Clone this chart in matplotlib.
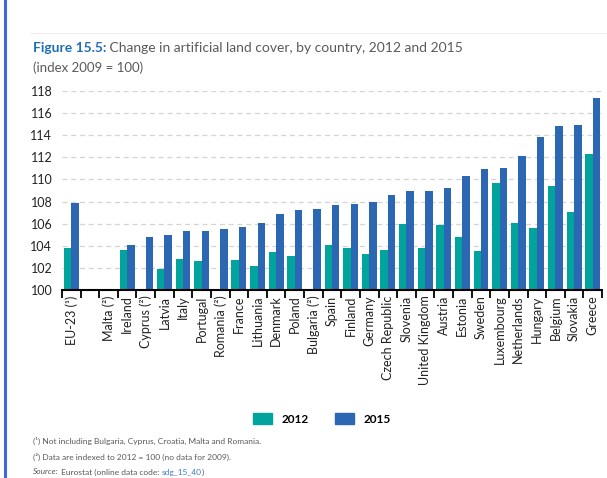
import numpy as np
import matplotlib
matplotlib.use("Agg")
import matplotlib.pyplot as plt
from matplotlib.lines import Line2D
from matplotlib.patches import Patch

plt.rcParams['font.family'] = ['Lato', 'DejaVu Sans']

# data (index 2009 = 100); None = no bar
countries = ["EU-23 (¹)", "", "Malta (²)", "Ireland", "Cyprus (²)", "Latvia", "Italy",
             "Portugal", "Romania (²)", "France", "Lithuania", "Denmark", "Poland",
             "Bulgaria (²)", "Spain", "Finland", "Germany", "Czech Republic", "Slovenia",
             "United Kingdom", "Austria", "Estonia", "Sweden", "Luxembourg",
             "Netherlands", "Hungary", "Belgium", "Slovakia", "Greece"]
v2012 = [103.8, None, 100.0, 103.6, 100.0, 101.9, 102.8, 102.6, 100.0, 102.7, 102.2,
         103.4, 103.1, 100.0, 104.1, 103.8, 103.3, 103.6, 106.0, 103.8, 105.9, 104.8,
         103.5, 109.7, 106.1, 105.6, 109.4, 107.1, 112.3]
v2015 = [107.9, None, 100.0, 104.1, 104.8, 105.0, 105.3, 105.3, 105.5, 105.7, 106.1,
         106.9, 107.2, 107.3, 107.7, 107.8, 108.0, 108.6, 109.0, 109.0, 109.2, 110.3,
         110.9, 111.0, 112.1, 113.8, 114.8, 114.9, 117.4]
series_names = ["2012", "2015"]

teal = '#00a49d'
blue = '#2b67b3'
grey_txt = '#5a5a5a'

W, H = 607, 478
fig = plt.figure(figsize=(W/100, H/100), dpi=100)

# blue rule on the left
fig.add_artist(Line2D([5/W, 5/W], [0, 1], color='#3d6ad8', lw=2.2))
fig.add_artist(Line2D([30/W, 1], [1-33/H, 1-33/H], color='#eeeeee', lw=0.8))

ax = fig.add_axes([62/W, 1-290/H, (602-62)/W, (290-91)/H])

x = np.arange(len(countries))
bw = 0.4
y12 = np.array([np.nan if v is None else v for v in v2012]) - 100
y15 = np.array([np.nan if v is None else v for v in v2015]) - 100
ax.bar(x - bw/2, y12, bw, bottom=100, color=teal, zorder=3)
ax.bar(x + bw/2, y15, bw, bottom=100, color=blue, zorder=3)

ax.set_xlim(-0.5, len(countries) - 0.5)
ax.set_ylim(100, 118)
ax.set_yticks(np.arange(100, 119, 2))
ax.yaxis.grid(True, linestyle=(0, (4, 3)), color='#d4d4d4', lw=0.9, zorder=0)
ax.tick_params(axis='y', length=0, pad=7, labelsize=9, labelcolor='#222222')

ax.set_xticks(np.arange(-0.5, len(countries)), labels=[])
ax.set_xticks(x, labels=countries, minor=True, rotation=90)
ax.tick_params(axis='x', which='major', length=6, width=1.3, color='black')
ax.tick_params(axis='x', which='minor', length=0, pad=4, labelsize=9, labelcolor='#222222')

for s in ['top', 'right', 'left']:
    ax.spines[s].set_visible(False)
ax.spines['bottom'].set_linewidth(1.5)
ax.spines['bottom'].set_zorder(4)

# title
t1 = fig.text(33/W, 1-48/H, "Figure 15.5:", color='#1f6db5', fontsize=10,
              fontweight='bold', va='center')
ax.annotate(" Change in artificial land cover, by country, 2012 and 2015",
            xy=(1, 0.5), xycoords=t1, va='center', color=grey_txt, fontsize=10,
            annotation_clip=False)
fig.text(33/W, 1-68/H, "(index 2009 = 100)", color=grey_txt, fontsize=9.5, va='center')

# legend
handles = [Patch(color=teal), Patch(color=blue)]
leg = fig.legend(handles, series_names, loc='center', bbox_to_anchor=(322/W, 1-419/H),
                 ncol=2, frameon=False, handlelength=1.6, handleheight=1.1,
                 columnspacing=2.2, handletextpad=0.8,
                 prop={'weight': 'bold', 'size': 8.5})

# notes
fs = 6.0
fig.text(33/W, 1-441/H, "(¹) Not including Bulgaria, Cyprus, Croatia, Malta and Romania.",
         fontsize=fs, color=grey_txt, va='center')
fig.text(33/W, 1-457/H, "(²) Data are indexed to 2012 = 100 (no data for 2009).",
         fontsize=fs, color=grey_txt, va='center')
s1 = fig.text(33/W, 1-472/H, "Source:", fontsize=fs, color=grey_txt, va='center',
              style='italic')
s2 = ax.annotate(" Eurostat (online data code: ", xy=(1, 0.5), xycoords=s1, va='center',
                 fontsize=fs, color=grey_txt, annotation_clip=False)
s3 = ax.annotate("sdg_15_40", xy=(1, 0.5), xycoords=s2, va='center',
                 fontsize=fs, color='#3d7cc9', annotation_clip=False)
ax.annotate(")", xy=(1, 0.5), xycoords=s3, va='center', fontsize=fs, color=grey_txt,
            annotation_clip=False)

fig.savefig("out.png", dpi=100)
